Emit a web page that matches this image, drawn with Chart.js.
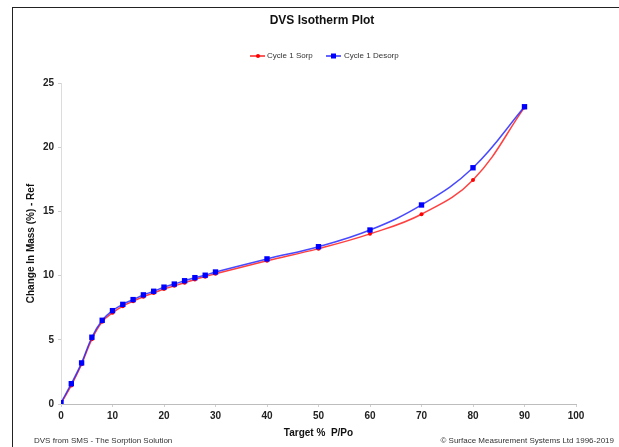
<!DOCTYPE html>
<html>
<head>
<meta charset="utf-8">
<script src="https://cdn.jsdelivr.net/npm/chart.js@4"></script>
<style>
  html, body { margin: 0; padding: 0; background: #fff; }
  #frame {
    position: absolute; left: 12px; top: 7px; width: 607px; height: 440px;
    border-left: 1.5px solid #222; border-top: 1.5px solid #222;
  }
  #wrap { position: absolute; left: 0; top: 0; width: 606px; height: 439px; }
</style>
</head>
<body>
<div id="frame"><div id="wrap"><canvas id="isothermChart"></canvas></div></div>
<script>
// Target % P/Po steps
const targetPP = [0, 2, 4, 6, 8, 10, 12, 14, 16, 18, 20, 22, 24, 26, 28, 30, 40, 50, 60, 70, 80, 90];
// Change in mass (%) - Ref
const cycle1Sorp = [0.05, 1.45, 3.1, 5.05, 6.4, 7.1, 7.62, 8.0, 8.35, 8.65, 8.95, 9.2, 9.45, 9.7, 9.92, 10.15, 11.15, 12.1, 13.25, 14.78, 17.45, 23.1];
const cycle1Desorp = [0.1, 1.58, 3.2, 5.2, 6.52, 7.27, 7.76, 8.13, 8.5, 8.78, 9.1, 9.34, 9.6, 9.84, 10.03, 10.28, 11.3, 12.25, 13.55, 15.5, 18.4, 23.15];

const xTicks = [0, 10, 20, 30, 40, 50, 60, 70, 80, 90, 100];
const yTicks = [0, 5, 10, 15, 20, 25];

const sorpPoints = targetPP.map((x, i) => ({ x: x, y: cycle1Sorp[i] }));
const desorpPoints = targetPP.map((x, i) => ({ x: x, y: cycle1Desorp[i] }));

// Titel, Legende und Fußzeilen selbst zeichnen
const decorPlugin = {
    id: 'decor',
    afterDraw(chart) {
        const c = chart.ctx;
        c.save();
        c.fillStyle = '#111';
        c.font = 'bold 12px "Liberation Sans", Arial, sans-serif';
        c.textAlign = 'center';
        c.textBaseline = 'middle';
        c.fillText('DVS Isotherm Plot', 309, 13);

        // legend
        c.font = '8px "Liberation Sans", Arial, sans-serif';
        c.textAlign = 'left';
        const ly = 48;
        c.lineWidth = 1.5;
        c.strokeStyle = '#ff2020';
        c.beginPath(); c.moveTo(237, ly); c.lineTo(252, ly); c.stroke();
        c.fillStyle = '#ff0000';
        c.beginPath(); c.arc(245, ly, 2, 0, Math.PI * 2); c.fill();
        c.fillStyle = '#333';
        c.fillText('Cycle 1 Sorp', 254, ly);
        c.strokeStyle = '#3030ff';
        c.beginPath(); c.moveTo(313, ly); c.lineTo(328, ly); c.stroke();
        c.fillStyle = '#0000ff';
        c.fillRect(318, ly - 2.5, 5, 5);
        c.fillStyle = '#333';
        c.fillText('Cycle 1 Desorp', 331, ly);

        // footers
        c.fillStyle = '#333';
        c.fillText('DVS from SMS - The Sorption Solution', 21, 433);
        c.textAlign = 'right';
        c.fillText('\u00A9 Surface Measurement Systems Ltd 1996-2019', 601, 433);
        c.restore();
    }
};

const isothermChart = new Chart(document.getElementById('isothermChart').getContext('2d'), {
    type: 'scatter',
    data: {
        datasets: [{
            label: 'Cycle 1 Desorp',
            data: desorpPoints,
            showLine: true,
            borderColor: 'rgba(40, 40, 255, 0.85)',
            backgroundColor: '#0000ff',
            borderWidth: 1.5,
            pointStyle: 'rect',
            pointRadius: 3.8,
            pointBorderWidth: 0,
            tension: 0.4,
            order: 0
        }, {
            label: 'Cycle 1 Sorp',
            data: sorpPoints,
            showLine: true,
            borderColor: 'rgba(255, 30, 30, 0.85)',
            backgroundColor: '#ff0000',
            borderWidth: 1.5,
            pointStyle: 'circle',
            pointRadius: 2,
            pointBorderWidth: 0,
            tension: 0.4,
            order: 1
        }]
    },
    options: {
        responsive: true,
        maintainAspectRatio: false,
        animation: false,
        layout: { padding: { top: 75, right: 43, left: 0, bottom: 0 } },
        plugins: {
            legend: { display: false },
            title: { display: false },
            tooltip: { enabled: false }
        },
        scales: {
            x: {
                type: 'linear',
                min: 0,
                max: 100,
                afterBuildTicks: (axis) => { axis.ticks = xTicks.map(v => ({ value: v })); },
                afterFit: (axis) => { axis.height = 43; },
                border: { color: '#bdbdbd', width: 1 },
                grid: { drawOnChartArea: false, color: '#cfcfcf', tickLength: 3 },
                ticks: {
                    color: '#222',
                    padding: 3,
                    maxRotation: 0,
                    font: { family: '"Liberation Sans", Arial, sans-serif', size: 10, weight: 'bold' }
                },
                title: {
                    display: true,
                    text: 'Target %  P/Po',
                    color: '#111',
                    padding: { top: 0, bottom: 8 },
                    font: { family: '"Liberation Sans", Arial, sans-serif', size: 10, weight: 'bold' }
                }
            },
            y: {
                min: 0,
                max: 25,
                afterBuildTicks: (axis) => { axis.ticks = yTicks.map(v => ({ value: v })); },
                afterFit: (axis) => { axis.width = 48; },
                border: { color: '#dcdcdc', width: 1 },
                grid: { drawOnChartArea: false, color: '#cfcfcf', tickLength: 3 },
                ticks: {
                    color: '#222',
                    padding: 4,
                    font: { family: '"Liberation Sans", Arial, sans-serif', size: 10, weight: 'bold' }
                },
                title: {
                    display: true,
                    text: 'Change In Mass (%) - Ref',
                    color: '#111',
                    padding: { top: 12, bottom: 0 },
                    font: { family: '"Liberation Sans", Arial, sans-serif', size: 10, weight: 'bold' }
                }
            }
        }
    },
    plugins: [decorPlugin]
});
</script>
</body>
</html>
